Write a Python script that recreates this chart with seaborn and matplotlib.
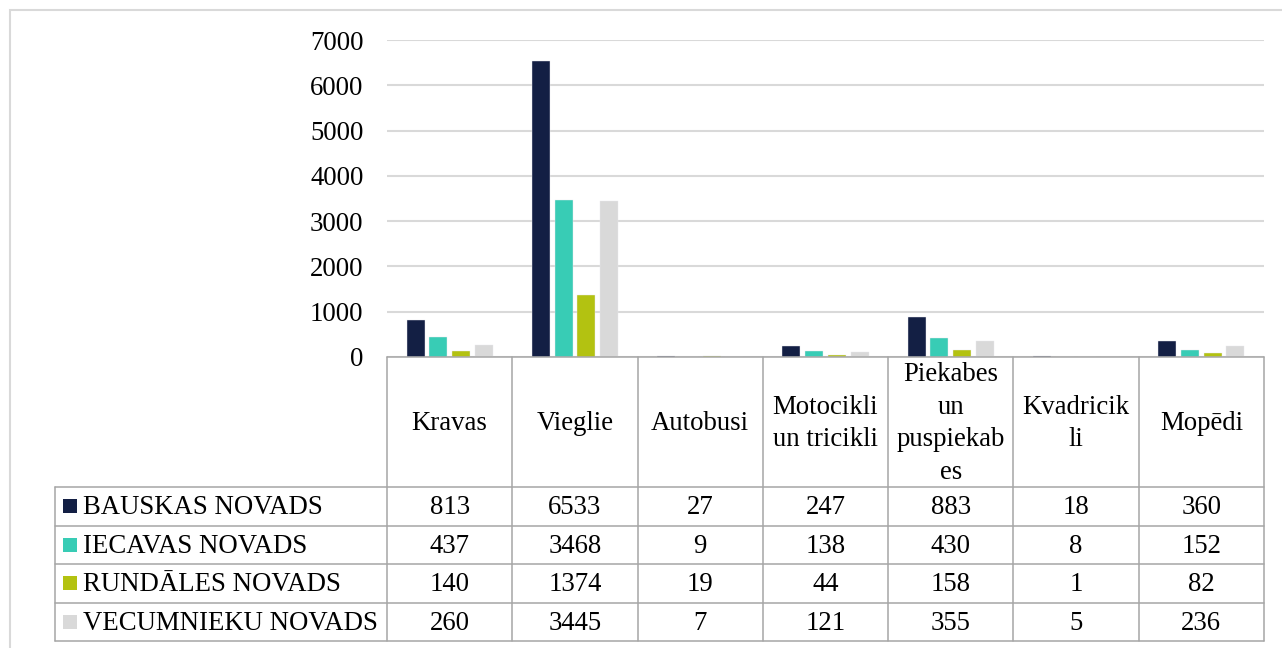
import matplotlib
matplotlib.use("Agg")
import numpy as np
import pandas as pd
import matplotlib.pyplot as plt
from matplotlib.lines import Line2D
from matplotlib.patches import Rectangle
import seaborn as sns

# Vehicle categories (table header wraps long names like a spreadsheet cell)
categories = ["Kravas", "Vieglie", "Autobusi", "Motocikli un tricikli",
              "Piekabes un puspiekabes", "Kvadricikli", "Mopēdi"]
header_labels = ["Kravas", "Vieglie", "Autobusi", "Motocikli\nun tricikli",
                 "Piekabes\nun\npuspiekab\nes", "Kvadricik\nli", "Mopēdi"]

regions = ["BAUSKAS NOVADS", "IECAVAS NOVADS", "RUNDĀLES NOVADS", "VECUMNIEKU NOVADS"]
bauska = [813, 6533, 27, 247, 883, 18, 360]
iecava = [437, 3468, 9, 138, 430, 8, 152]
rundale = [140, 1374, 19, 44, 158, 1, 82]
vecumnieki = [260, 3445, 7, 121, 355, 5, 236]
series = [bauska, iecava, rundale, vecumnieki]

colors = ["#131F44", "#38CCB5", "#B3C211", "#D9D9D9"]
y_ticks = [0, 1000, 2000, 3000, 4000, 5000, 6000, 7000]

df = pd.DataFrame({
    "kategorija": np.repeat([categories], len(regions), axis=0).ravel(),
    "novads": np.repeat(regions, len(categories)),
    "skaits": np.concatenate(series),
})

sns.set_style("white")
plt.rcParams["font.family"] = ["Liberation Serif", "DejaVu Serif"]

W, H = 1282, 648
fig = plt.figure(figsize=(W / 100, H / 100), dpi=100)


def fx(x):
    return x / W


def fy(y):
    return 1 - y / H


FS = 19.3

plot_left, plot_right, plot_top, plot_bottom = 387, 1264, 40, 357
ax = fig.add_axes([fx(plot_left), fy(plot_bottom),
                   (plot_right - plot_left) / W, (plot_bottom - plot_top) / H])

sns.barplot(data=df, x="kategorija", y="skaits", hue="novads", order=categories,
            hue_order=regions, palette=colors, saturation=1, width=0.725, gap=0.21,
            edgecolor="#E8E8EE", linewidth=0.3, legend=False, ax=ax, errorbar=None)

ax.set_ylim(0, 7000)
ax.set_xlim(-0.5, len(categories) - 0.5)
ax.set_yticks(y_ticks)
ax.set_yticklabels([str(t) for t in y_ticks], fontsize=FS, color="black")
ax.tick_params(axis="y", length=0, pad=17)
ax.set_xticks([])
ax.set_xlabel("")
ax.set_ylabel("")
ax.set_axisbelow(True)
ax.yaxis.grid(True, color="#D9D9D9", linewidth=1.5)
for s in ax.spines.values():
    s.set_visible(False)

# Outer chart frame
fig.add_artist(Rectangle((fx(10), -0.2), 1.2, fy(10) + 0.2, transform=fig.transFigure,
                         fill=False, edgecolor="#D9D9D9", linewidth=1.5))

# Data table underneath the plot
line_kw = dict(color="#A6A6A6", linewidth=1.1, transform=fig.transFigure)
col_w = (plot_right - plot_left) / len(categories)
col_edges = [plot_left + i * col_w for i in range(len(categories) + 1)]
header_bottom = 487
row_h = (641 - header_bottom) / len(regions)
row_edges = [header_bottom + i * row_h for i in range(len(regions) + 1)]
legend_left = 55

fig.add_artist(Line2D([fx(plot_left), fx(plot_right)], [fy(plot_bottom)] * 2, **line_kw))
for x in col_edges:
    fig.add_artist(Line2D([fx(x), fx(x)], [fy(plot_bottom), fy(row_edges[-1])], **line_kw))
fig.add_artist(Line2D([fx(legend_left), fx(legend_left)], [fy(header_bottom), fy(row_edges[-1])], **line_kw))
for y in row_edges:
    fig.add_artist(Line2D([fx(legend_left), fx(plot_right)], [fy(y)] * 2, **line_kw))

txt_kw = dict(fontsize=FS, color="black")
for i, lab in enumerate(header_labels):
    cx = col_edges[i] + col_w / 2
    fig.text(fx(cx), fy((plot_bottom + header_bottom) / 2 + 1.5), lab,
             ha="center", va="center", multialignment="center", linespacing=1.4, **txt_kw)

for r, (name, vals, c) in enumerate(zip(regions, series, colors)):
    cy = (row_edges[r] + row_edges[r + 1]) / 2
    fig.add_artist(Rectangle((fx(63), fy(cy + 7)), 14 / W, 14 / H,
                             transform=fig.transFigure, facecolor=c, edgecolor="none"))
    fig.text(fx(83), fy(cy + 1.5), name, ha="left", va="center", **txt_kw)
    for i, v in enumerate(vals):
        cx = col_edges[i] + col_w / 2
        fig.text(fx(cx), fy(cy + 1.5), str(v), ha="center", va="center", **txt_kw)

fig.savefig("out.png", dpi=100, facecolor="white")
